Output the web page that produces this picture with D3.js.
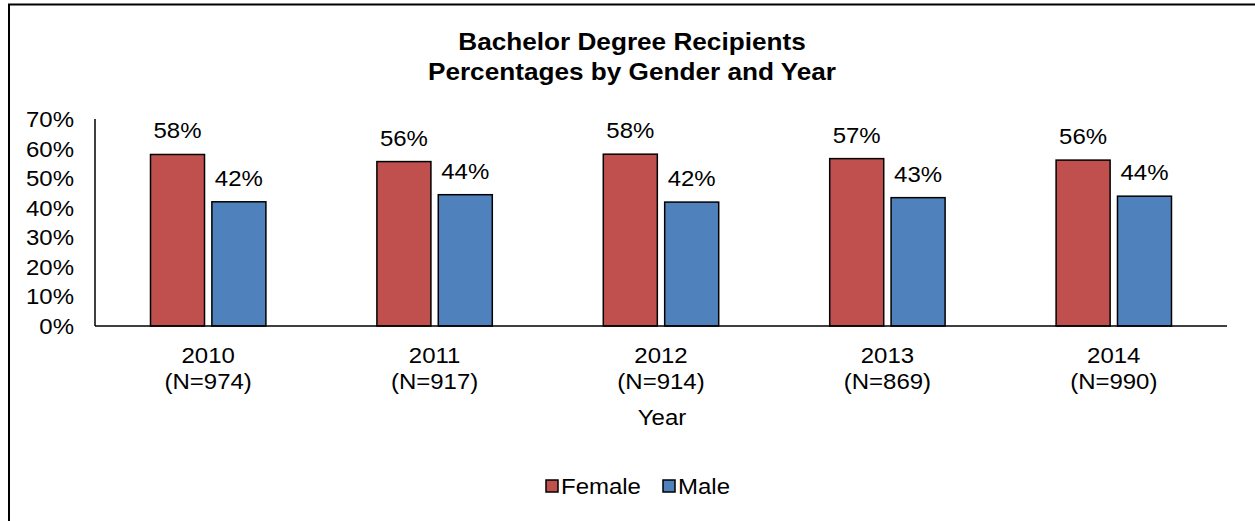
<!DOCTYPE html>
<html>
<head>
<meta charset="utf-8">
<script src="https://cdn.jsdelivr.net/npm/d3@7"></script>
<style>
  html, body { margin: 0; padding: 0; background: #fff; }
  svg { display: block; font-family: "Liberation Sans", Arial, sans-serif; }
</style>
</head>
<body>
<svg id="chart" width="1255" height="521"></svg>
<script>
// Bachelor degree recipients by gender and year
const years = ["2010", "2011", "2012", "2013", "2014"];
const counts = ["N=974", "N=917", "N=914", "N=869", "N=990"];
const series = ["Female", "Male"];
const female = [58.0, 55.6, 58.1, 56.6, 56.1];
const male = [42.0, 44.4, 41.9, 43.4, 43.9];
const yTicks = [0, 10, 20, 30, 40, 50, 60, 70];
const colors = ["#C0504D", "#4F81BD"];

// Slightly wide lettering: widen each text run by this factor
const WIDEN = 1.09;
function widen(sel) {
  sel.each(function () {
    const w = this.getComputedTextLength();
    d3.select(this)
      .attr("textLength", w * WIDEN)
      .attr("lengthAdjust", "spacingAndGlyphs");
  });
}

const svg = d3.select("#chart");

// Outer frame
svg.append("path")
  .attr("d", "M9,530 L9,4.5 L1270,4.5")
  .attr("fill", "none")
  .attr("stroke", "#000")
  .attr("stroke-width", 2);

const plot = { left: 95, right: 1227, top: 119, bottom: 326 };

const x0 = d3.scaleBand()
  .domain(years)
  .range([plot.left, plot.right])
  .paddingInner(0)
  .paddingOuter(0);

const x1 = d3.scaleBand()
  .domain(series)
  .range([55.5, x0.bandwidth() - 55.5])
  .paddingInner(0.12)
  .paddingOuter(0);

const y = d3.scaleLinear().domain([0, 70]).range([plot.bottom, plot.top]);

// Title
const title = svg.append("text")
  .attr("text-anchor", "middle")
  .attr("font-weight", "bold")
  .attr("font-size", 24)
  .attr("fill", "#000");
title.append("tspan").attr("x", 632).attr("y", 50).text("Bachelor Degree Recipients");
title.append("tspan").attr("x", 632).attr("y", 80).text("Percentages by Gender and Year");
widen(title.selectAll("tspan"));

// Y axis labels
const yLabels = svg.append("g")
  .selectAll("text")
  .data(yTicks)
  .join("text")
  .attr("x", 74)
  .attr("y", d => y(d) + 8)
  .attr("text-anchor", "end")
  .attr("font-size", 22)
  .text(d => d + "%");
widen(yLabels);

// Bars
const rows = years.map((yr, i) => ({ year: yr, values: [female[i], male[i]] }));
const groups = svg.append("g").selectAll("g")
  .data(rows)
  .join("g")
  .attr("transform", d => `translate(${x0(d.year)},0)`);

groups.selectAll("rect")
  .data(d => d.values.map((v, k) => ({ key: series[k], value: v, k })))
  .join("rect")
  .attr("x", d => x1(d.key))
  .attr("y", d => y(d.value))
  .attr("width", x1.bandwidth())
  .attr("height", d => y(0) - y(d.value))
  .attr("fill", d => colors[d.k])
  .attr("stroke", "#000")
  .attr("stroke-width", 1.5);

const valLabels = groups.selectAll("text.val")
  .data(d => d.values.map((v, k) => ({ key: series[k], value: v })))
  .join("text")
  .attr("class", "val")
  .attr("x", d => x1(d.key) + x1.bandwidth() / 2)
  .attr("y", d => y(d.value) - 16)
  .attr("text-anchor", "middle")
  .attr("font-size", 22)
  .text(d => Math.round(d.value) + "%");
widen(valLabels);

// Axis lines
svg.append("line")
  .attr("x1", plot.left).attr("x2", plot.left)
  .attr("y1", plot.top).attr("y2", plot.bottom)
  .attr("stroke", "#000").attr("stroke-width", 1.5);
svg.append("line")
  .attr("x1", plot.left).attr("x2", plot.right)
  .attr("y1", plot.bottom).attr("y2", plot.bottom)
  .attr("stroke", "#000").attr("stroke-width", 1.5);

// Category labels
const cat = svg.append("g").selectAll("text")
  .data(years.map((yr, i) => ({ year: yr, n: counts[i] })))
  .join("text")
  .attr("text-anchor", "middle")
  .attr("font-size", 22);
cat.append("tspan")
  .attr("x", d => x0(d.year) + x0.bandwidth() / 2)
  .attr("y", 363)
  .text(d => d.year);
cat.append("tspan")
  .attr("x", d => x0(d.year) + x0.bandwidth() / 2)
  .attr("y", 389)
  .text(d => "(" + d.n + ")");
widen(cat.selectAll("tspan"));

// Axis title
const axisTitle = svg.append("text")
  .attr("x", 662).attr("y", 425)
  .attr("text-anchor", "middle")
  .attr("font-size", 22)
  .text("Year");
widen(axisTitle);

// Legend
const legendItems = [
  { name: series[0], color: colors[0], x: 546 },
  { name: series[1], color: colors[1], x: 663 }
];
const lg = svg.append("g").selectAll("g")
  .data(legendItems)
  .join("g")
  .attr("transform", d => `translate(${d.x},480)`);
lg.append("rect")
  .attr("width", 12).attr("height", 12)
  .attr("fill", d => d.color)
  .attr("stroke", "#000").attr("stroke-width", 1.5);
const lgText = lg.append("text")
  .attr("x", 15).attr("y", 14)
  .attr("font-size", 22)
  .text(d => d.name);
widen(lgText);
</script>
</body>
</html>
